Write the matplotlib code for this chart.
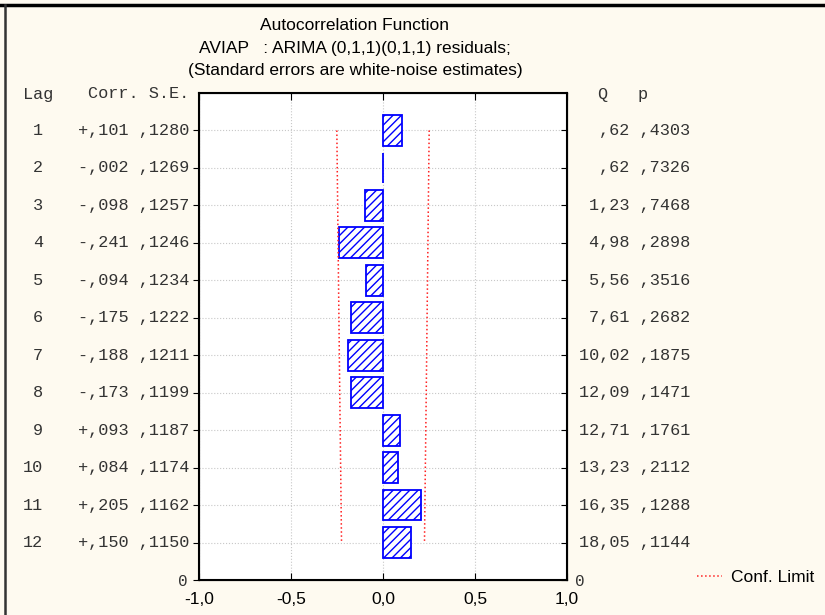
import numpy as np
import matplotlib
matplotlib.use("Agg")
import matplotlib.pyplot as plt
import matplotlib.transforms as mtransforms
from matplotlib.lines import Line2D

lags = [1, 2, 3, 4, 5, 6, 7, 8, 9, 10, 11, 12]
corr = [0.101, -0.002, -0.098, -0.241, -0.094, -0.175, -0.188, -0.173, 0.093, 0.084, 0.205, 0.150]
se = [0.1280, 0.1269, 0.1257, 0.1246, 0.1234, 0.1222, 0.1211, 0.1199, 0.1187, 0.1174, 0.1162, 0.1150]
q_stat = [0.62, 0.62, 1.23, 4.98, 5.56, 7.61, 10.02, 12.09, 12.71, 13.23, 16.35, 18.05]
p_val = [0.4303, 0.7326, 0.7468, 0.2898, 0.3516, 0.2682, 0.1875, 0.1471, 0.1761, 0.2112, 0.1288, 0.1144]
xticks = [-1.0, -0.5, 0.0, 0.5, 1.0]
xtick_labels = ["-1,0", "-0,5", "0,0", "0,5", "1,0"]
title_lines = ["Autocorrelation Function",
               "AVIAP   : ARIMA (0,1,1)(0,1,1) residuals;",
               "(Standard errors are white-noise estimates)"]

BG = "#fefaf0"
BLUE = "#0000ff"
RED = "#ff2020"
MONO = "Liberation Mono"
SANS = "Liberation Sans"
W, H = 825, 615


def fx(px):
    return px / W


def fy(py):
    return 1 - py / H


def fmt_corr(v):
    s = "+" if v >= 0 else "-"
    return s + ("%.3f" % abs(v))[1:].replace(".", ",")


def fmt_frac(v):
    return ("%.4f" % v)[1:].replace(".", ",")


def fmt_q(v):
    s = "%.2f" % v
    if s.startswith("0"):
        s = s[1:]
    return s.replace(".", ",")


plt.rcParams["hatch.color"] = BLUE
plt.rcParams["hatch.linewidth"] = 1.0

fig = plt.figure(figsize=(W / 100, H / 100), dpi=100, facecolor=BG)
ax = fig.add_axes([fx(199), fy(580), fx(567) - fx(199), fy(93) - fy(580)])
ax.set_facecolor("white")

n = len(lags)
pos = [n + 1 - l for l in lags]   # lag 1 at top, 0 at bottom
ax.barh(pos, corr, height=0.82, color="white", edgecolor=BLUE, hatch="////",
        linewidth=1.3, zorder=3)
lim = [1.96 * s for s in se]
ax.plot(lim, pos, color=RED, ls=":", lw=1.1, zorder=4)
ax.plot([-v for v in lim], pos, color=RED, ls=":", lw=1.1, zorder=4)

ax.set_xlim(-1, 1)
ax.set_ylim(0, n + 1)
ax.set_xticks(xticks)
ax.set_xticklabels(xtick_labels, fontname=SANS, fontsize=12.5)
ax.set_yticks([0] + pos)
ax.set_yticklabels(["0"] + [""] * n, fontname=MONO, fontsize=11.5, color="#333333")
ax.tick_params(axis="x", direction="in", top=True, length=5, pad=9)
ax.tick_params(axis="y", direction="out", length=4, pad=4)
ax.grid(True, color="#c8c8c8", ls=":", lw=0.8, zorder=0)
for sp in ax.spines.values():
    sp.set_linewidth(1.5)

ax2 = ax.twinx()
ax2.set_ylim(ax.get_ylim())
ax2.set_yticks([0] + pos)
ax2.set_yticklabels(["0"] + [""] * n, fontname=MONO, fontsize=11.5, color="#333333")
ax2.tick_params(axis="y", direction="in", length=4, pad=6)

# table text on both sides
tr = mtransforms.blended_transform_factory(fig.transFigure, ax.transData)
mono = dict(fontname=MONO, fontsize=12.2, color="#333333")
for l, p, c, s, q, pv in zip(lags, pos, corr, se, q_stat, p_val):
    ax.text(fx(43), p, str(l), ha="right", va="center", transform=tr, **mono)
    ax.text(fx(189), p, fmt_corr(c) + " " + fmt_frac(s), ha="right", va="center",
            transform=tr, **mono)
    ax.text(fx(690), p, fmt_q(q) + " " + fmt_frac(pv), ha="right", va="center",
            transform=tr, **mono)

fig.text(fx(23), fy(94), "Lag", ha="left", va="center", **mono)
fig.text(fx(189), fy(94), "Corr. S.E.", ha="right", va="center", **mono)
fig.text(fx(597), fy(94), "Q", ha="left", va="center", **mono)
fig.text(fx(638), fy(94), "p", ha="left", va="center", **mono)

for i, line in enumerate(title_lines):
    fig.text(fx(355), fy(25 + 23 * i), line, ha="center", va="center",
             fontname=SANS, fontsize=12.5, color="black")

handle = Line2D([], [], color=RED, ls=":", lw=1.1)
fig.legend([handle], ["Conf. Limit"], loc="center left",
           bbox_to_anchor=(fx(697), fy(577)), frameon=False, handlelength=1.45,
           handletextpad=0.5, borderpad=0, borderaxespad=0,
           prop={"family": SANS, "size": 12.5})

# window frame lines at top and left
fig.add_artist(Line2D([0, 1], [fy(5), fy(5)], transform=fig.transFigure, color="black", lw=2.5))
fig.add_artist(Line2D([fx(5), fx(5)], [0, fy(5)], transform=fig.transFigure, color="#333333", lw=1.8))

fig.savefig("out.png", dpi=100, facecolor=BG)
